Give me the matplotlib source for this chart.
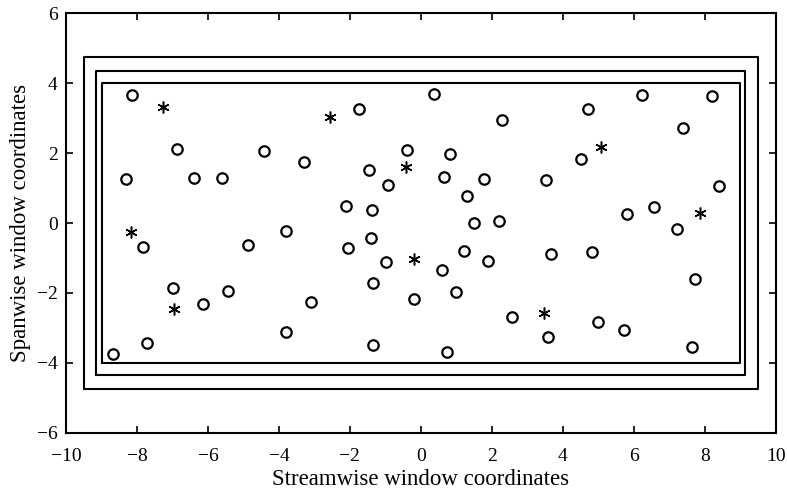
import matplotlib.pyplot as plt

plt.rcParams['font.family'] = 'Liberation Serif'

# window boundaries: half-width, half-height
box_halfwidth = [9.0, 9.15, 9.5]
box_halfheight = [4.0, 4.35, 4.75]

# probe positions
circle_x = [-8.15, -6.88, -4.41, -3.28, -8.32, -6.38, -5.61,
            -1.74, 0.37, 2.30, -0.40, 0.82, -1.47, -0.92, 0.65, 1.79, 1.29,
            -2.12, -1.38, 1.50, 2.20,
            6.23, 8.21, 4.72, 7.39, 4.51, 3.54, 8.41, 5.81, 6.57, 7.22,
            -7.84, -4.86, -3.80, -6.98, -6.14, -5.43, -3.09, -3.80, -7.73, -8.69,
            -2.04, -1.41, -0.97, 0.59, 1.23, 1.88, -1.36, -0.20, 0.99, 2.58,
            -1.36, 0.73,
            3.67, 4.82, 7.73, 3.59, 5.00, 5.74, 7.65]
circle_y = [3.67, 2.12, 2.06, 1.76, 1.25, 1.30, 1.28,
            3.27, 3.70, 2.96, 2.08, 1.99, 1.53, 1.08, 1.33, 1.26, 0.78,
            0.48, 0.38, 0.01, 0.07,
            3.66, 3.63, 3.28, 2.71, 1.84, 1.23, 1.06, 0.25, 0.46, -0.18,
            -0.68, -0.62, -0.23, -1.87, -2.31, -1.95, -2.25, -3.11, -3.43, -3.75,
            -0.72, -0.43, -1.11, -1.33, -0.80, -1.09, -1.71, -2.16, -1.96, -2.70,
            -3.50, -3.70,
            -0.89, -0.82, -1.61, -3.27, -2.83, -3.07, -3.54]

star_x = [-7.26, -2.56, -0.43, 5.09, 7.87, -8.17, -6.96, -0.18, 3.48]
star_y = [3.33, 3.03, 1.60, 2.19, 0.30, -0.25, -2.47, -1.04, -2.58]

fig = plt.figure(figsize=(7.87, 4.92), dpi=100)
ax = fig.add_axes([0.0839, 0.1205, 0.9016, 0.8521])

for hw, hh in zip(box_halfwidth, box_halfheight):
    ax.plot([-hw, hw, hw, -hw, -hw], [-hh, -hh, hh, hh, -hh], color='black', lw=1.5)

ax.plot(circle_x, circle_y, 'o', mfc='none', mec='black', ms=7.5, mew=1.6)
ax.plot(star_x, star_y, ls='none', color='black', ms=8.5, mew=1.1, marker=(6, 2, 0))

ax.set_xlim(-10, 10)
ax.set_ylim(-6, 6)
ax.set_xticks(range(-10, 11, 2))
ax.set_yticks(range(-6, 7, 2))
ax.tick_params(direction='in', length=5, width=1.2, top=True, right=True, labelsize=14)
ax.tick_params(axis='x', pad=11)
ax.tick_params(axis='y', pad=6)
for s in ax.spines.values():
    s.set_linewidth(1.5)

ax.set_xlabel('Streamwise window coordinates', fontsize=16.5, labelpad=3)
ax.set_ylabel('Spanwise window coordinates', fontsize=16.5, labelpad=4)

fig.savefig('out.png', dpi=100)
